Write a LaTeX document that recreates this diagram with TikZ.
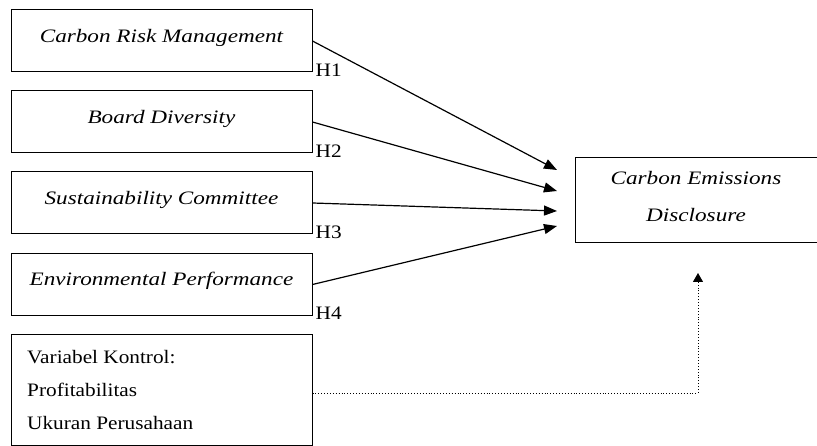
\documentclass[tikz,border=0pt]{standalone}
\usepackage{fontspec}
\setmainfont{Liberation Serif}[FakeStretch=1.12, ItalicFeatures={FakeStretch=1.22}]
\usetikzlibrary{arrows.meta}
\tikzset{
	varbox/.style={draw, line width=1pt, minimum width=301pt, minimum height=62pt, inner sep=0pt, text height=12pt, text depth=9pt, font=\itshape},
	hlabel/.style={anchor=base west, inner sep=0pt, xshift=3pt, yshift=-4pt},
	path/.style={line width=1.2pt, -{Triangle[length=13pt,width=10pt]}}
}
\begin{document}
\fontsize{19}{23}\selectfont
\begin{tikzpicture}[x=1pt,y=-1pt]
		\useasboundingbox (0,0) rectangle (817,446);
		\node[varbox] (crm) at (161.5,41) {Carbon Risk Management};
		\node[varbox] (bd) at (161.5,122) {Board Diversity};
		\node[varbox] (sc) at (161.5,203) {Sustainability Committee};
		\node[varbox] (ep) at (161.5,284.5) {Environmental Performance};
		\node[draw, line width=1pt, minimum width=301pt, minimum height=110pt, inner sep=0pt] (vk) at (161.5,390) {};
		\node[anchor=base west, inner sep=0pt] at (27,363) {Variabel Kontrol:};
		\node[anchor=base west, inner sep=0pt] at (27,396) {Profitabilitas};
		\node[anchor=base west, inner sep=0pt] at (27,429) {Ukuran Perusahaan};
		\node[draw, line width=1pt, minimum width=242pt, minimum height=85pt, inner sep=0pt, font=\itshape, align=center] (ced) at (696,200.5) {Carbon Emissions\\[14pt]Disclosure\\[-15pt]};
		% hypothesis labels
		\node[hlabel] at (crm.south east) {H1};
		\node[hlabel] at (bd.south east) {H2};
		\node[hlabel] at (sc.south east) {H3};
		\node[hlabel] at (ep.south east) {H4};
		% arrow tips
		\coordinate (t1) at (557,170);
		\coordinate (t2) at (557,191);
		\coordinate (t3) at (557,211);
		\coordinate (t4) at (557,226);
		\coordinate (t5) at (698,273);
		\draw[path] (crm.east) -- (t1);
		\draw[path] (bd.east) -- (t2);
		\draw[path] (sc.east) -- (t3);
		\draw[path] (ep.east) -- (t4);
		\draw[line width=0.9pt, dotted, -{Triangle[length=9pt,width=10pt]}] ([yshift=-3pt]vk.east) -| (t5);
\end{tikzpicture}
\end{document}
